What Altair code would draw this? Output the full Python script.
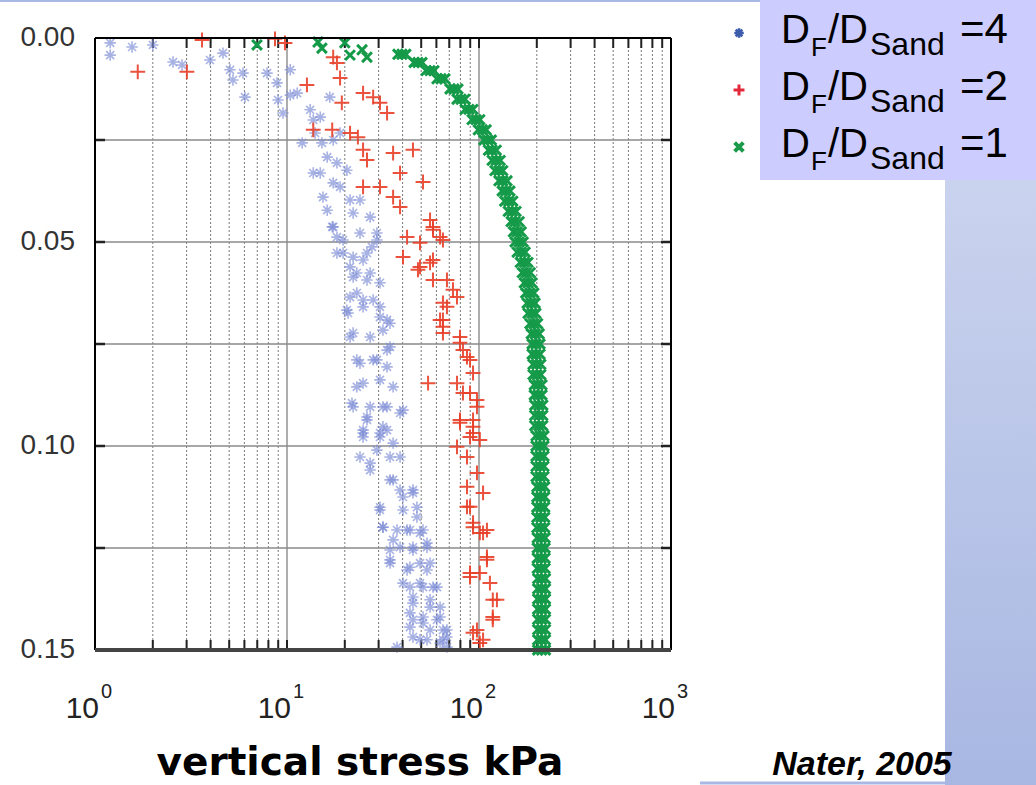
import altair as alt
import pandas as pd

# ---------------- data ----------------
blue_stress = [1.20, 1.20, 1.56, 2.00, 2.55, 2.84, 3.97, 4.64, 5.05, 5.23, 5.90, 6.04, 7.87, 8.87, 8.98, 9.53,
               10.4, 10.4, 11.3, 12.0, 13.2, 13.7, 14.0, 14.9, 15.2, 16.2, 16.7, 17.4, 18.2, 18.9, 13.7, 14.9,
               15.4, 16.2, 17.2, 17.4, 18.9, 20.5, 21.3, 22.1, 18.2, 19.6, 21.3, 22.1, 24.0, 26.1, 27.1, 23.1,
               24.9, 28.1, 30.5, 24.0, 27.1, 29.4, 20.5, 34.4,
               17.4, 19.6, 18.2, 22.1, 24.9, 27.7, 29.4, 23.1, 26.1, 30.5, 21.3, 24.9, 30.5, 33.2, 20.8, 22.1,
               27.1, 31.6, 34.4, 23.1, 28.1, 33.2, 24.9, 30.5, 35.7, 21.8, 27.1, 33.2, 38.8, 26.1, 31.6, 24.9, 30.5,
               21.3, 24.0, 29.4, 33.2, 23.1, 22.1, 26.1, 31.6, 40.2, 24.9, 33.2, 29.4, 24.0, 27.1, 34.4, 38.8,
               35.7, 40.2, 45.3, 47.5, 30.5, 31.6, 37.4, 43.7, 49.3, 34.4, 38.8, 45.3, 53.6, 34.4, 42.2, 49.3,
               55.6, 43.7, 51.1, 57.6, 45.3, 55.6, 62.7, 45.3, 51.1, 60.4, 68.1, 45.3, 53.6, 64.9, 37.4, 68.1,
               24.9, 30.5, 35.7, 27.1, 34.4, 38.8, 45.3, 30.5, 40.2, 47.5, 31.6, 42.2, 51.1, 35.7, 45.3, 53.6,
               34.4, 43.7, 53.6, 40.2, 49.3, 60.4, 45.3, 55.6, 43.7, 51.1, 62.7, 43.7, 55.6, 64.9, 49.3, 62.7, 68.1]
blue_depth = [0.0012, 0.0042, 0.0022, 0.0017, 0.0059, 0.0066, 0.0054, 0.0037, 0.0078, 0.0103, 0.0086, 0.0145,
              0.0086, 0.0110, 0.0152, 0.0184, 0.0078, 0.0140, 0.0135, 0.0257, 0.0176, 0.0201, 0.0233, 0.0194,
              0.0257, 0.0292, 0.0145, 0.0250, 0.0306, 0.0233, 0.0331, 0.0331, 0.0390, 0.0422, 0.0463, 0.0355,
              0.0365, 0.0324, 0.0397, 0.0429, 0.0488, 0.0527, 0.0561, 0.0586, 0.0478, 0.0527, 0.0576, 0.0625,
              0.0642, 0.0642, 0.0684, 0.0397, 0.0439, 0.0495, 0.0667, 0.0699,
              0.0463, 0.0495, 0.0527, 0.0537, 0.0544, 0.0512, 0.0478, 0.0576, 0.0593, 0.0600, 0.0635, 0.0659,
              0.0659, 0.0691, 0.0674, 0.0723, 0.0733, 0.0716, 0.0757, 0.0789, 0.0789, 0.0806, 0.0846, 0.0838,
              0.0855, 0.0895, 0.0904, 0.0904, 0.0919, 0.0936, 0.0953, 0.0968, 0.0978,
              0.0733, 0.0797, 0.0789, 0.0765, 0.0855, 0.0904, 0.0929, 0.0904, 0.0912, 0.0961, 0.0961, 0.1010,
              0.1027, 0.1059, 0.1027, 0.1027, 0.1083, 0.1125, 0.1108, 0.1150, 0.1157, 0.1199, 0.1206, 0.1206,
              0.1213, 0.1255, 0.1248, 0.1255, 0.1238, 0.1287, 0.1304, 0.1287, 0.1287, 0.1346, 0.1346, 0.1346,
              0.1385, 0.1395, 0.1395, 0.1426, 0.1434, 0.1426, 0.1451, 0.1468, 0.1475, 0.1475, 0.1493, 0.1493,
              0.0978, 0.0968, 0.0993, 0.1042, 0.1083, 0.1108, 0.1115, 0.1150, 0.1157, 0.1174, 0.1199, 0.1206,
              0.1206, 0.1230, 0.1248, 0.1248, 0.1279, 0.1297, 0.1304, 0.1336, 0.1336, 0.1346, 0.1370, 0.1377,
              0.1409, 0.1419, 0.1419, 0.1444, 0.1451, 0.1451, 0.1475, 0.1483, 0.1468]

red_stress = [1.67, 3.01, 3.61, 8.66, 9.76, 12.7, 18.2, 18.9, 19.3, 17.4, 24.9, 28.1, 30.5, 33.2, 13.7, 17.2,
              21.3, 23.4, 24.9, 26.1, 35.7, 45.3, 38.8, 51.1, 24.9, 30.5, 35.7, 38.8, 55.6, 57.6, 42.2, 49.3,
              64.9, 40.2, 49.3, 55.6, 57.6, 68.1, 73.2, 76.8, 64.9, 64.9, 57.6, 62.7, 48.1, 57.6, 68.1, 62.7,
              64.9, 79.6, 82.5, 89.8, 93.1, 54.3, 76.8, 82.5, 97.6, 79.6, 93.1, 93.1, 64.9, 79.6, 86.6, 89.8,
              97.6, 79.6, 93.1, 101, 76.8, 86.6, 97.6, 105, 86.6, 89.8, 93.1, 101, 110, 101, 89.8, 114,
              124, 118, 93.1, 101, 110, 89.8, 86.6, 93.1, 105, 110, 89.8, 118, 118, 97.6, 105]
red_depth = [0.0083, 0.0083, 0.0005, 0.0002, 0.0012, 0.0115, 0.0061, 0.0098, 0.0159, 0.0047, 0.0135, 0.0145,
             0.0159, 0.0184, 0.0225, 0.0225, 0.0233, 0.0243, 0.0274, 0.0299, 0.0282, 0.0274, 0.0331, 0.0353,
             0.0365, 0.0365, 0.0390, 0.0414, 0.0446, 0.0470, 0.0488, 0.0502, 0.0495, 0.0537, 0.0561, 0.0551,
             0.0593, 0.0593, 0.0617, 0.0635, 0.0649, 0.0691, 0.0463, 0.0488, 0.0568, 0.0544, 0.0659, 0.0691,
             0.0708, 0.0733, 0.0765, 0.0789, 0.0821, 0.0846, 0.0846, 0.0870, 0.0887, 0.0936, 0.0936, 0.0968,
             0.0723, 0.0747, 0.0782, 0.0870, 0.0904, 0.0943, 0.0953, 0.0985, 0.1002, 0.1027, 0.1066, 0.1115,
             0.1100, 0.1149, 0.1188, 0.1213, 0.1279, 0.1311, 0.1321, 0.1336, 0.1377, 0.1419, 0.1458, 0.1483,
             0.1206, 0.0978, 0.1149, 0.1199, 0.1213, 0.1272, 0.1311, 0.1377, 0.1426, 0.1451, 0.1475]

green_depth = [0.004, 0.006, 0.008, 0.010, 0.0125, 0.015, 0.0175, 0.020, 0.0225, 0.025, 0.0275, 0.030,
               0.0325, 0.035, 0.0375, 0.040, 0.0425, 0.045, 0.0475, 0.050, 0.0525, 0.055, 0.0575, 0.060,
               0.0625, 0.065, 0.0675, 0.070, 0.0725, 0.075, 0.0775, 0.080, 0.0825, 0.085, 0.0875, 0.090,
               0.0925, 0.095, 0.0975, 0.100, 0.1025, 0.105, 0.1075, 0.110, 0.1125, 0.115, 0.1175, 0.120,
               0.1225, 0.125, 0.1275, 0.130, 0.1325, 0.135, 0.1375, 0.140, 0.1425, 0.145, 0.1475, 0.150]
green_mid = [39.7, 48.1, 55.6, 63.4, 74.1, 80.6, 88.7, 96.5, 104, 111, 117, 123, 127, 133, 138, 143, 149, 154,
             158, 162, 166, 172, 176, 180, 184, 187, 189, 193, 196, 198, 198, 200, 200, 203, 203, 205, 205, 205,
             208, 208, 208, 208, 208, 210, 210, 210, 210, 210, 211, 211, 211, 211, 212, 212, 212, 212, 212, 212,
             212, 212]
green_lo = [37.8, 45.9, 53.0, 60.4, 70.6, 76.8, 84.6, 92.0, 99.1, 106, 112, 117, 121, 127, 132, 136, 142, 147,
            151, 154, 158, 164, 168, 172, 175, 178, 180, 184, 187, 189, 189, 191, 191, 194, 194, 195, 195, 195,
            198, 198, 198, 198, 198, 200, 200, 200, 200, 200, 201, 201, 201, 201, 202, 202, 202, 202, 202, 202,
            202, 202]
green_hi = [41.6, 50.5, 58.3, 66.5, 77.7, 84.5, 93.0, 101, 109, 116, 123, 129, 133, 140, 145, 150, 156, 162,
            166, 170, 174, 180, 185, 189, 193, 196, 198, 202, 206, 208, 208, 210, 210, 213, 213, 215, 215, 215,
            218, 218, 218, 218, 218, 220, 220, 220, 220, 220, 221, 221, 221, 221, 222, 222, 222, 222, 222, 222,
            222, 222]
green_top_stress = [6.98, 14.5, 15.2, 20.0, 21.3, 24.6, 26.1]
green_top_depth = [0.0017, 0.0010, 0.0025, 0.0012, 0.0042, 0.0029, 0.0047]

decade_ticks = [1, 10, 100, 1000]
decade_exponents = ["0", "1", "2", "3"]
major_grid = [10, 100]
minor_ticks = [2, 3, 4, 5, 6, 7, 8, 9, 20, 30, 40, 50, 60, 70, 80, 90, 200, 300, 400, 500, 600, 700, 800, 900]
depth_labels = [0.0, 0.05, 0.10, 0.15]
depth_label_text = ["0.00", "0.05", "0.10", "0.15"]
depth_grid = [0.025, 0.05, 0.075, 0.10, 0.125]
legend_values = ["=4", "=2", "=1"]

# ---------------- layout ----------------
W, H = 576, 612
PAD_L, PAD_T = 95, 38

STAR = "M0,-1L0,1M-1,0L1,0M-0.7,-0.7L0.7,0.7M-0.7,0.7L0.7,-0.7"
PLUS = "M-1,0L1,0M0,-1L0,1"
XMARK = "M-0.8,-0.8L0.8,0.8M-0.8,0.8L0.8,-0.8"

xs = alt.Scale(type="log", domain=[1, 1000], nice=False)
ys = alt.Scale(domain=[0, 0.15], reverse=True, nice=False, zero=False)

one = pd.DataFrame({"k": [0]})
blue_df = pd.DataFrame({"stress": blue_stress, "depth": blue_depth})
red_df = pd.DataFrame({"stress": red_stress, "depth": red_depth})
green_df = pd.DataFrame({"stress": green_lo + green_mid + green_hi + green_top_stress,
                         "depth": green_depth * 3 + green_top_depth})
minor_df = pd.DataFrame({"v": minor_ticks})
major_df = pd.DataFrame({"v": major_grid})
alltick_df = pd.DataFrame({"v": minor_ticks + major_grid})
ygrid_df = pd.DataFrame({"v": depth_grid})
ylab_df = pd.DataFrame({"v": depth_labels, "t": depth_label_text})
xlab_df = pd.DataFrame({"v": decade_ticks, "base": ["10"] * 4, "exp": decade_exponents})


def px(x):
    return alt.value(x - PAD_L)


def py(y):
    return alt.value(y - PAD_T)


def X():
    return alt.X("v:Q", scale=xs, axis=None)


def Y():
    return alt.Y("v:Q", scale=ys, axis=None)


layers = []

# background decorations
layers.append(alt.Chart(one).mark_rect(color=alt.Gradient(
    gradient="linear",
    stops=[alt.GradientStop(color="#cad3ee", offset=0), alt.GradientStop(color="#a8b7e2", offset=1)],
    x1=0, x2=0, y1=0, y2=1)).encode(x=px(945), x2=px(1036), y=py(180), y2=py(785)))
layers.append(alt.Chart(one).mark_rect(color="#ccccff").encode(x=px(760), x2=px(1036), y=py(0), y2=py(180)))
layers.append(alt.Chart(one).mark_rule(color="#a9b9e3", strokeWidth=2).encode(x=px(0), x2=px(760), y=py(1)))
layers.append(alt.Chart(one).mark_rule(color="#a9b9e3", strokeWidth=3).encode(x=px(700), x2=px(945), y=py(783)))

# grid
layers.append(alt.Chart(minor_df).mark_rule(color="#555", strokeWidth=0.8, strokeDash=[2, 2]).encode(x=X()))
layers.append(alt.Chart(major_df).mark_rule(color="#777", strokeWidth=1.2).encode(x=X()))
layers.append(alt.Chart(ygrid_df).mark_rule(color="#8a8a8a", strokeWidth=1.5).encode(y=Y()))

# inward ticks
layers.append(alt.Chart(alltick_df).mark_rule(color="#222", strokeWidth=2).encode(
    x=X(), y=alt.value(H), y2=alt.value(H - 10)))
layers.append(alt.Chart(alltick_df).mark_rule(color="#222", strokeWidth=2).encode(
    x=X(), y=alt.value(0), y2=alt.value(10)))
layers.append(alt.Chart(ygrid_df).mark_rule(color="#222", strokeWidth=2.5).encode(
    y=Y(), x=alt.value(0), x2=alt.value(10)))
layers.append(alt.Chart(ygrid_df).mark_rule(color="#222", strokeWidth=2.5).encode(
    y=Y(), x=alt.value(W - 10), x2=alt.value(W)))

# data
layers.append(alt.Chart(blue_df).mark_point(shape=STAR, filled=False, size=130, strokeWidth=1.6,
                                             color="#7b8bd6", opacity=0.65).encode(
    x=alt.X("stress:Q", scale=xs, axis=None), y=alt.Y("depth:Q", scale=ys, axis=None)))
layers.append(alt.Chart(red_df).mark_point(shape=PLUS, filled=False, size=220, strokeWidth=2,
                                            color="#e8402a", opacity=0.9).encode(
    x=alt.X("stress:Q", scale=xs, axis=None), y=alt.Y("depth:Q", scale=ys, axis=None)))
layers.append(alt.Chart(green_df).mark_point(shape=XMARK, filled=False, size=150, strokeWidth=3,
                                              color="#149a48", opacity=1).encode(
    x=alt.X("stress:Q", scale=xs, axis=None), y=alt.Y("depth:Q", scale=ys, axis=None)))

# frame
layers.append(alt.Chart(one).mark_rule(color="#000", strokeWidth=2).encode(x=alt.value(0), x2=alt.value(W), y=alt.value(0)))
layers.append(alt.Chart(one).mark_rule(color="#000", strokeWidth=2).encode(x=alt.value(0), y=alt.value(0), y2=alt.value(H)))
layers.append(alt.Chart(one).mark_rule(color="#000", strokeWidth=2).encode(x=alt.value(W), y=alt.value(0), y2=alt.value(H)))
layers.append(alt.Chart(one).mark_rule(color="#444", strokeWidth=4).encode(x=alt.value(0), x2=alt.value(W), y=alt.value(H)))

# y tick labels
layers.append(alt.Chart(ylab_df).mark_text(align="right", baseline="middle", fontSize=28,
                                           font="Liberation Sans", color="#333").encode(
    x=px(75), y=Y(), text="t:N"))

# x tick labels 10^n
layers.append(alt.Chart(xlab_df).mark_text(align="right", baseline="alphabetic", fontSize=30,
                                           font="Liberation Sans", color="#222", dx=4).encode(
    x=X(), y=py(718), text="base:N"))
layers.append(alt.Chart(xlab_df).mark_text(align="left", baseline="alphabetic", fontSize=20,
                                           font="Liberation Sans", color="#222", dx=6).encode(
    x=X(), y=py(698), text="exp:N"))

# titles
layers.append(alt.Chart(pd.DataFrame({"t": ["vertical stress kPa"]})).mark_text(
    align="center", baseline="alphabetic", fontSize=39, fontWeight="bold", font="DejaVu Sans",
    color="#000").encode(x=px(360), y=py(775), text="t:N"))
layers.append(alt.Chart(pd.DataFrame({"t": ["Nater, 2005"]})).mark_text(
    align="center", baseline="alphabetic", fontSize=34, fontWeight="bold", fontStyle="italic",
    font="Liberation Sans", color="#000").encode(x=px(862), y=py(775), text="t:N"))

# legend
leg_marks = [(STAR, "#3b5bab", 90, 2.6, 33), (PLUS, "#e2283a", 120, 3, 90), (XMARK, "#1a9a4a", 120, 4, 147)]
for shape, col, size, sw, yy in leg_marks:
    layers.append(alt.Chart(one).mark_point(shape=shape, filled=False, size=size, strokeWidth=sw,
                                            color=col, opacity=1).encode(x=px(739), y=py(yy)))

for i, val in enumerate(legend_values):
    base = 43 + 57 * i
    pieces = [("D", 781, 0, 40), ("F", 811, 13, 26), ("/D", 828, 0, 40), ("Sand", 870, 12, 32),
              (val, 960, 0, 42)]
    for txt, xx, off, fs in pieces:
        layers.append(alt.Chart(pd.DataFrame({"t": [txt]})).mark_text(
            align="left", baseline="alphabetic", fontSize=fs, font="Liberation Sans", color="#000").encode(
            x=px(xx), y=py(base + off), text="t:N"))

chart = alt.layer(*layers).properties(
    width=W, height=H,
    padding={"left": PAD_L, "top": PAD_T, "right": 1036 - PAD_L - W, "bottom": 785 - PAD_T - H},
    autosize=alt.AutoSizeParams(type="none"),
    background="white",
).configure_view(stroke="transparent")

chart.save("out.html", embed_options={"renderer": "svg", "actions": False})
